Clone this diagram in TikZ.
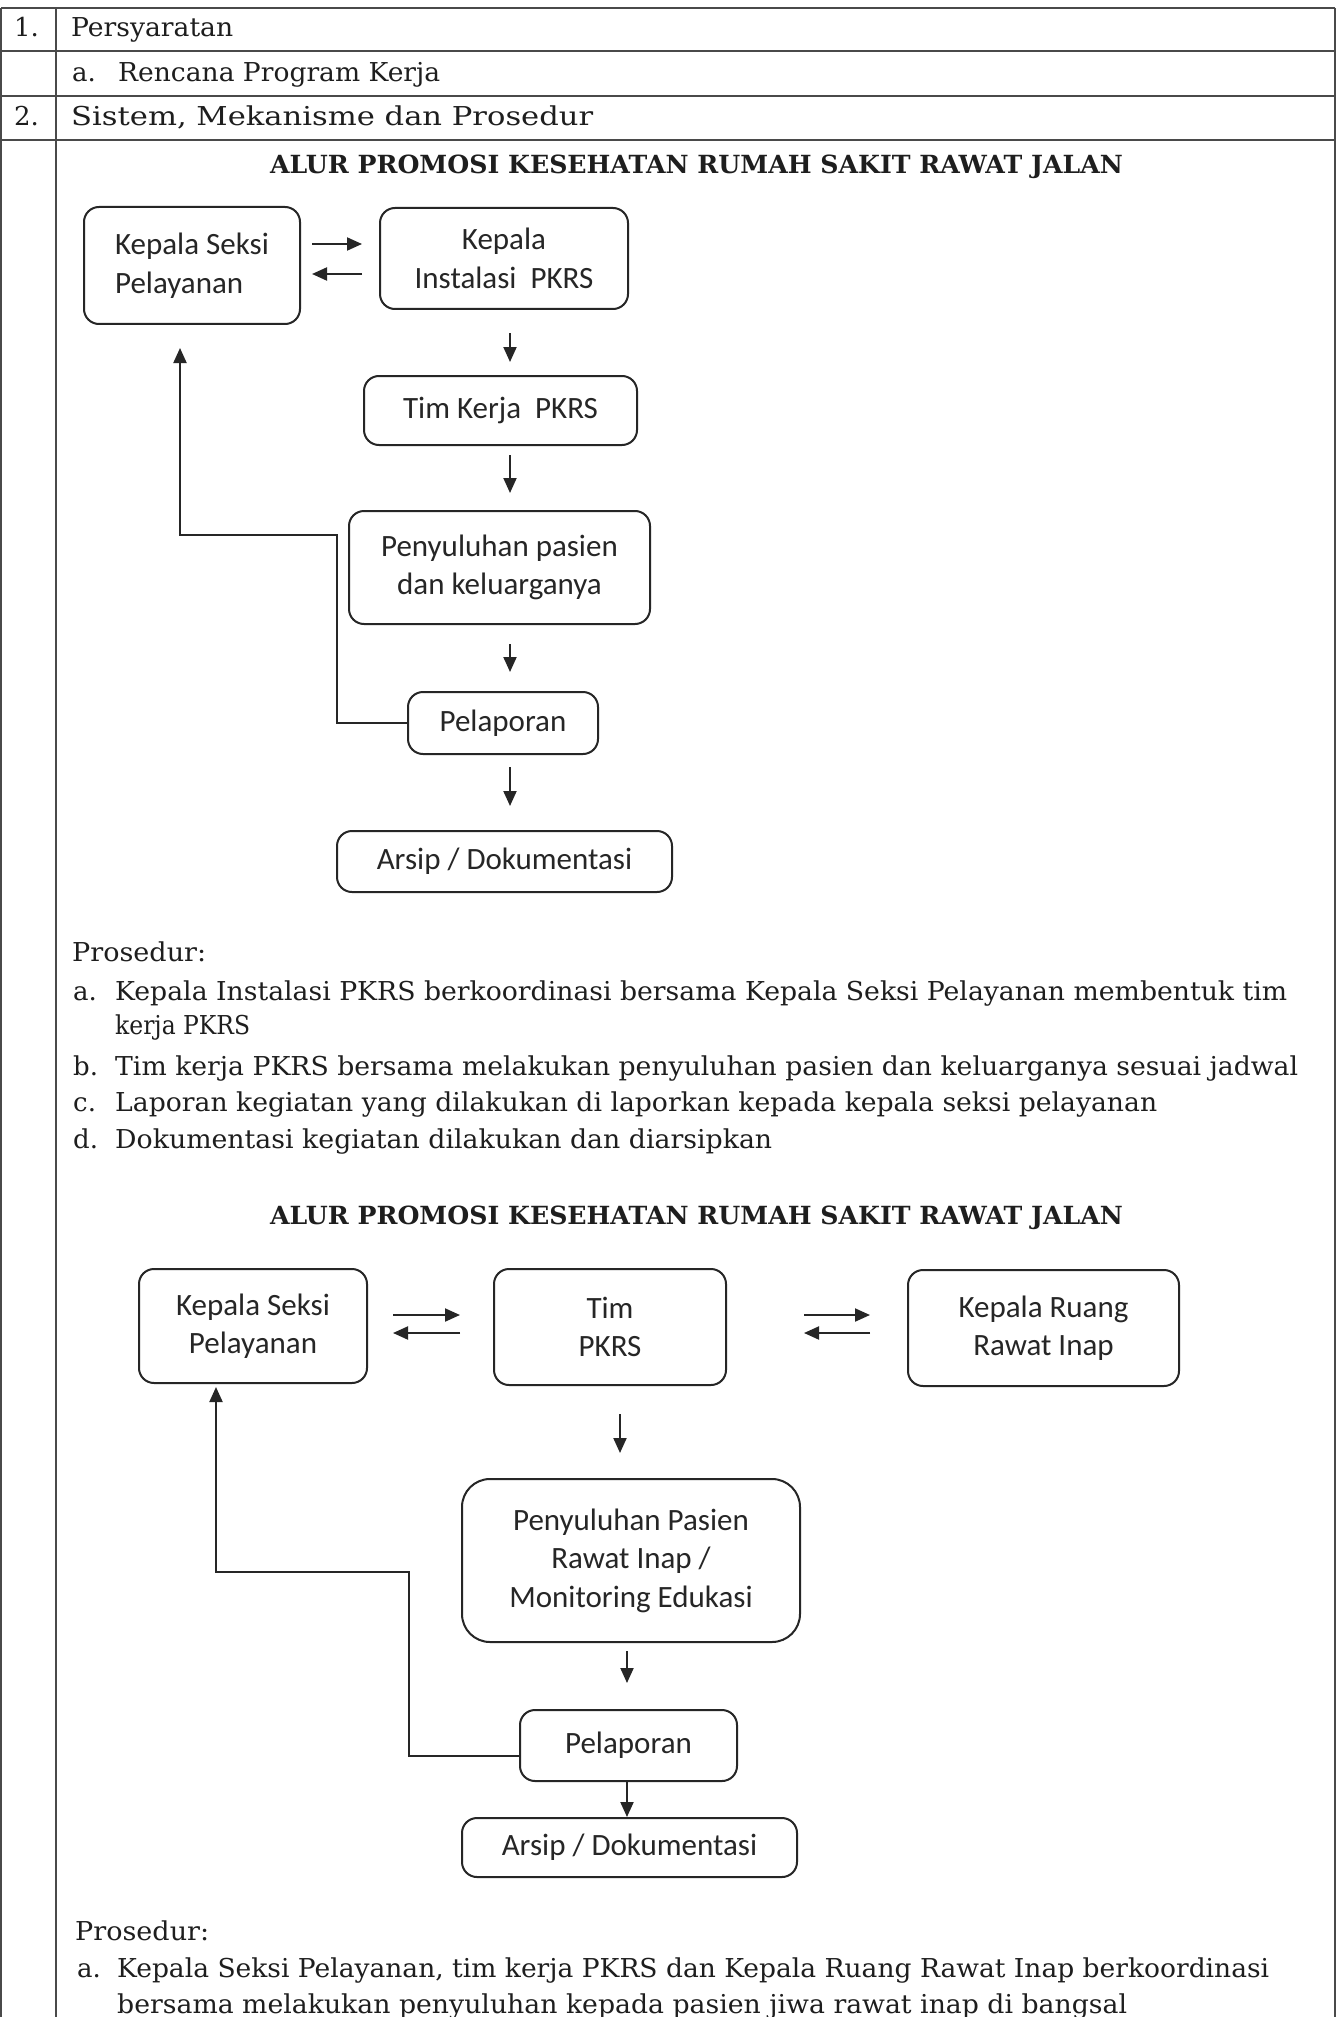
\documentclass[tikz,border=0pt]{standalone}
\usepackage{fontspec}
\usepackage{graphicx}
\setmainfont{DejaVu Serif}
\newfontfamily\boxfont{Carlito}
\usetikzlibrary{arrows.meta,calc}
\newcommand\fw[2]{\resizebox{#1pt}{\height}{#2}}
\definecolor{ink}{HTML}{262626}
\definecolor{txt}{HTML}{1E1E1E}
\definecolor{rulec}{HTML}{4A4A4A}
\begin{document}
\begin{tikzpicture}[x=1pt,y=-1pt,
  bx/.style={draw=ink, line width=2pt, rounded corners=15pt, inner sep=0pt, align=center,
    font=\boxfont\fontsize{31}{38.5}\selectfont, text=ink},
  arr/.style={draw=ink, line width=2pt, -{Triangle[length=15pt,width=13pt]}},
  tx/.style={anchor=base west, inner sep=0pt, text=txt, font=\fontsize{26}{30}\selectfont},
  ttl/.style={anchor=base, inner sep=0pt, text=txt, font=\bfseries\fontsize{25}{29}\selectfont},
  tbl/.style={draw=rulec, line width=1.5pt}]
\useasboundingbox (0,0) rectangle (1337,2017);
\clip (0,0) rectangle (1337,2017);
\fill[white] (0,0) rectangle (1337,2017);

% table
\draw[tbl] (1,8) -- (1335,8);
\draw[tbl] (1,51) -- (1335,51);
\draw[tbl] (1,96) -- (1335,96);
\draw[tbl] (1,140) -- (1335,140);
\draw[tbl] (1,8) -- (1,2017);
\draw[tbl] (56,8) -- (56,2017);
\draw[tbl] (1335,8) -- (1335,2017);

\node[tx] (n1) at (14,37) {1.};
\node[tx] (r1) at (71,37) {\fw{162}{Persyaratan}};
\node[tx] (r2a) at (72,82) {a.};
\node[tx] (r2) at (118,82) {\fw{322}{Rencana Program Kerja}};
\node[tx] (n2) at (14,126) {2.};
\node[tx] (r3) at (71,126) {\fw{522}{Sistem, Mekanisme dan Prosedur}};

% diagram 1
\node[ttl] (t1) at (696.5,174) {\fw{853}{ALUR PROMOSI KESEHATAN RUMAH SAKIT RAWAT JALAN}};

\node[bx, align=left, minimum width=216pt, minimum height=117pt] (ksp) at (192,265.5) {Kepala Seksi\\Pelayanan};
\node[bx, minimum width=248pt, minimum height=101pt] (kip) at (504,258.5) {Kepala\\Instalasi\ \ PKRS};
\node[bx, minimum width=273pt, minimum height=69pt] (tim) at (500.5,410.5) {Tim Kerja\ \ PKRS};
\node[bx, minimum width=301pt, minimum height=113pt] (peny) at (499.5,567.5) {Penyuluhan pasien\\dan keluarganya};
\node[bx, minimum width=190pt, minimum height=62pt] (pel) at (503,723) {Pelaporan};
\node[bx, minimum width=335pt, minimum height=61pt] (ars) at (504.5,861.5) {Arsip / Dokumentasi};

\draw[arr] ($(ksp.east)+(11,-21.5)$) -- ($(kip.west)+(-17,-14.5)$);
\draw[arr] ($(kip.west)+(-17,15.5)$) -- ($(ksp.east)+(11,8.5)$);
\draw[arr] ($(kip.south)+(6,23)$) -- ($(tim.north)+(9.5,-13)$);
\draw[arr] ($(tim.south)+(9.5,9)$) -- ($(peny.north)+(10.5,-17)$);
\draw[arr] ($(peny.south)+(10.5,19)$) -- ($(pel.north)+(7,-19)$);
\draw[arr] ($(pel.south)+(7,12)$) -- ($(ars.north)+(5.5,-24)$);
\draw[arr] (pel.west) -- ++(-70,0) |- ($(ksp.south)+(-12,210)$) -- ($(ksp.south)+(-12,23)$);

% prosedur 1
\node[tx] (p1) at (72,961) {\fw{134}{Prosedur:}};
\node[tx] (p1a) at (73,1000) {a.};
\node[tx] (p1at) at (115,1000) {\fw{1172}{Kepala Instalasi PKRS berkoordinasi bersama Kepala Seksi Pelayanan membentuk tim}};
\node[tx] (p1at2) at (115,1034) {\fw{135}{kerja PKRS}};
\node[tx] (p1b) at (73,1075) {b.};
\node[tx] (p1bt) at (115,1075) {\fw{1183}{Tim kerja PKRS bersama melakukan penyuluhan pasien dan keluarganya sesuai jadwal}};
\node[tx] (p1c) at (73,1111) {c.};
\node[tx] (p1ct) at (115,1111) {\fw{1042}{Laporan kegiatan yang dilakukan di laporkan kepada kepala seksi pelayanan}};
\node[tx] (p1d) at (73,1148) {d.};
\node[tx] (p1dt) at (115,1148) {\fw{657}{Dokumentasi kegiatan dilakukan dan diarsipkan}};

% diagram 2
\node[ttl] (t2) at (696.5,1224) {\fw{853}{ALUR PROMOSI KESEHATAN RUMAH SAKIT RAWAT JALAN}};

\node[bx, minimum width=228pt, minimum height=114pt] (ksp2) at (253,1326) {Kepala Seksi\\Pelayanan};
\node[bx, minimum width=232pt, minimum height=116pt] (tim2) at (610,1327) {Tim\\PKRS};
\node[bx, minimum width=271pt, minimum height=116pt] (krri) at (1043.5,1328) {Kepala Ruang\\Rawat Inap};
\node[bx, rounded corners=28pt, minimum width=338pt, minimum height=163pt] (peny2) at (631,1560.5) {Penyuluhan Pasien\\Rawat Inap /\\Monitoring Edukasi};
\node[bx, minimum width=217pt, minimum height=71pt] (pel2) at (628.5,1745.5) {Pelaporan};
\node[bx, minimum width=335pt, minimum height=59pt] (ars2) at (629.5,1847.5) {Arsip / Dokumentasi};

\draw[arr] ($(ksp2.east)+(25,-11)$) -- ($(tim2.west)+(-33,-12)$);
\draw[arr] ($(tim2.west)+(-33,6)$) -- ($(ksp2.east)+(25,7)$);
\draw[arr] ($(tim2.east)+(77,-12)$) -- ($(krri.west)+(-37,-13)$);
\draw[arr] ($(krri.west)+(-37,5)$) -- ($(tim2.east)+(77,6)$);
\draw[arr] ($(tim2.south)+(10,28)$) -- ($(peny2.north)+(-11,-25)$);
\draw[arr] ($(peny2.south)+(-4,8)$) -- ($(pel2.north)+(-1.5,-26)$);
\draw[arr] ($(pel2.south)+(-1.5,0)$) -- ($(ars2.north)+(-2.5,0)$);
\draw[arr] ($(pel2.west)+(0,10)$) -- ++(-110,0) |- ($(ksp2.south)+(-37,188)$) -- ($(ksp2.south)+(-37,3)$);

% prosedur 2
\node[tx] (p2) at (75,1940) {\fw{134}{Prosedur:}};
\node[tx] (p2a) at (77,1977) {a.};
\node[tx] (p2at) at (117,1977) {\fw{1152}{Kepala Seksi Pelayanan, tim kerja PKRS dan Kepala Ruang Rawat Inap berkoordinasi}};
\node[tx] (p2at2) at (117,2013) {\fw{1010}{bersama melakukan penyuluhan kepada pasien jiwa rawat inap di bangsal}};
\end{tikzpicture}
\end{document}
